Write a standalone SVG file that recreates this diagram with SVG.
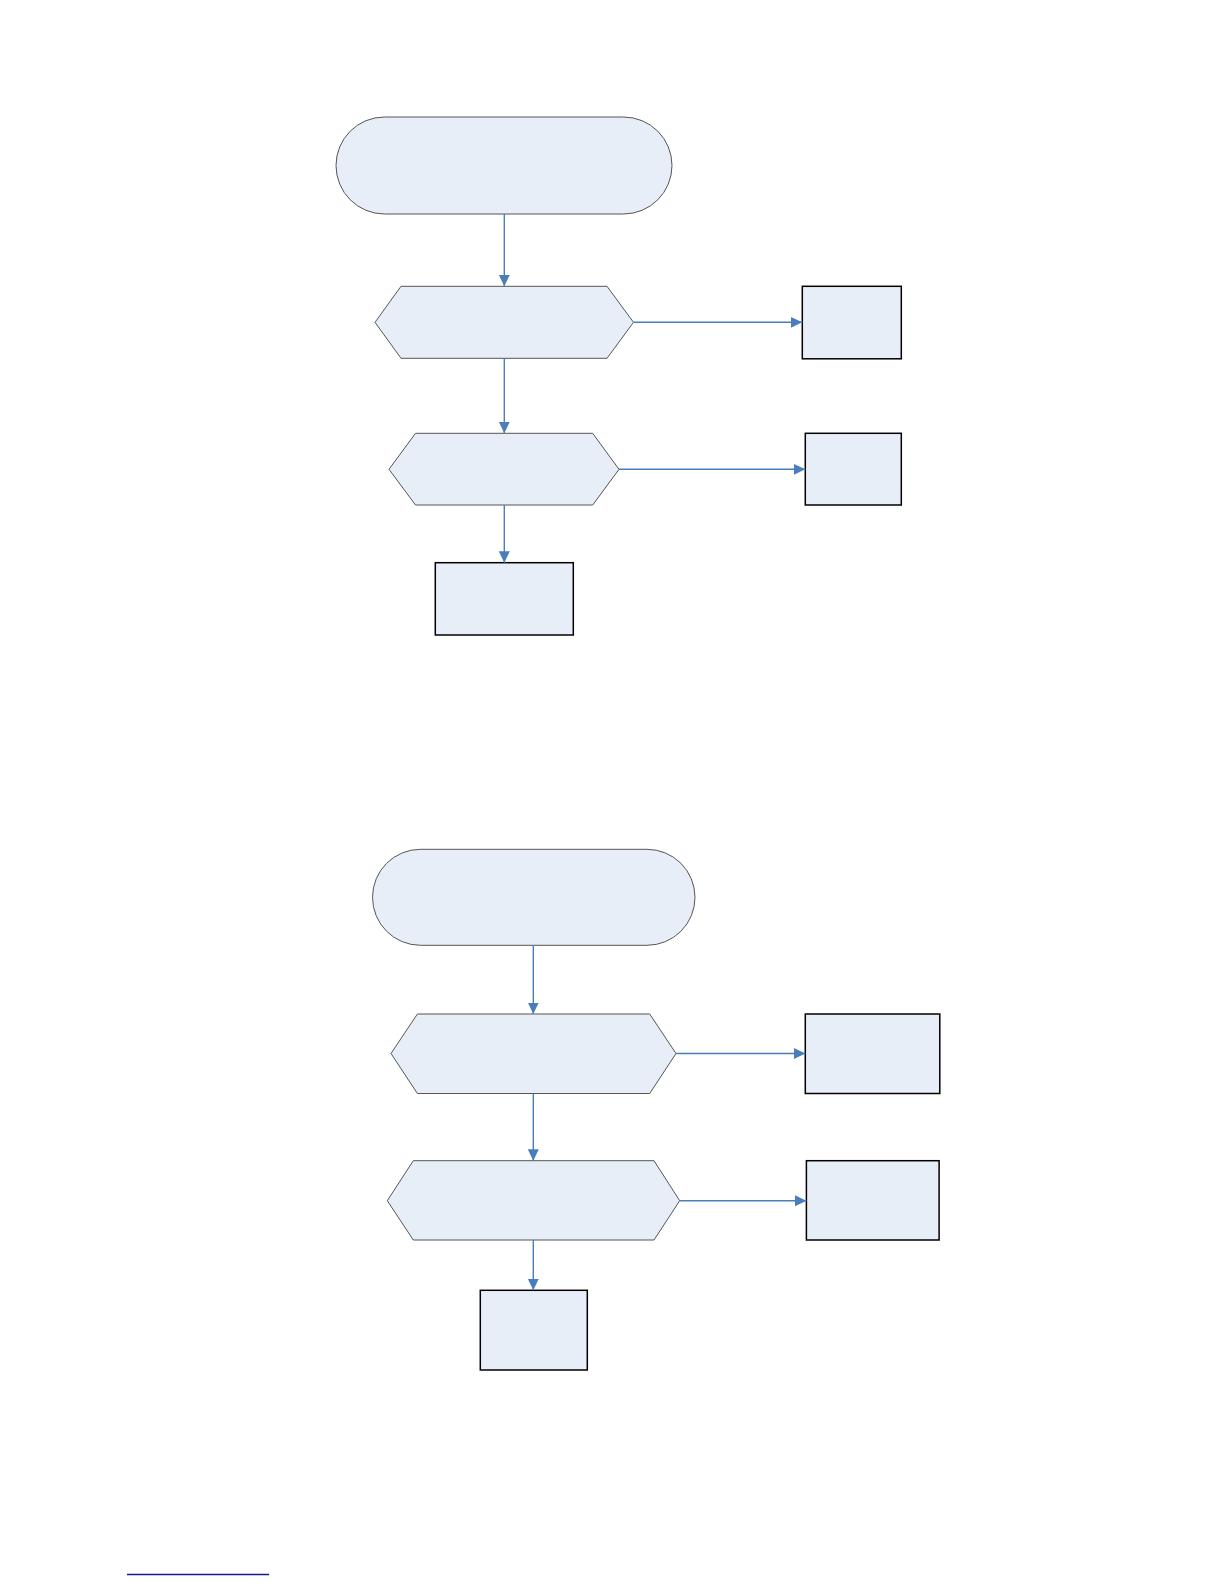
<svg xmlns="http://www.w3.org/2000/svg" width="1224" height="1584" viewBox="0 0 1224 1584">
<defs>
<style>
.term{fill:#e8eef8;stroke:#555555;stroke-width:1}
.hex{fill:#e8eef8;stroke:#555555;stroke-width:1}
.box{fill:#e8eef8;stroke:#000000;stroke-width:1.5}
.conn{fill:none;stroke:#4a7ebb;stroke-width:1.4}
</style>
<marker id="arr" markerUnits="userSpaceOnUse" markerWidth="13" markerHeight="13" viewBox="0 0 13 13" refX="11.5" refY="6.5" orient="auto">
<path d="M0,1 L11.5,6.5 L0,12 Z" fill="#4a7ebb"/>
</marker>
</defs>
<rect width="1224" height="1584" fill="#ffffff"/>
<g id="start1"><rect class="term" x="336" y="117" width="336" height="97" rx="48.5" ry="48.5"/></g>
<g id="decision1"><polygon class="hex" points="375,322.3 401,286.3 607,286.3 633.5,322.3 607,358.3 401,358.3"/></g>
<g id="box1a"><rect class="box" x="802.3" y="286.3" width="99" height="72.5"/></g>
<g id="decision2"><polygon class="hex" points="389,469.3 415.5,433.3 592.7,433.3 619,469.3 592.7,505 415.5,505"/></g>
<g id="box1b"><rect class="box" x="805.3" y="433.3" width="96" height="71.7"/></g>
<g id="box1c"><rect class="box" x="435.3" y="562.7" width="138" height="72.3"/></g>
<g id="start2"><rect class="term" x="372.5" y="849.3" width="322.5" height="96" rx="48" ry="48"/></g>
<g id="decision3"><polygon class="hex" points="391,1053.5 417.4,1014 649.7,1014 676,1053.5 649.7,1093.5 417.4,1093.5"/></g>
<g id="box2a"><rect class="box" x="805.3" y="1014" width="134.5" height="79.5"/></g>
<g id="decision4"><polygon class="hex" points="387.3,1200.7 413.3,1160.7 654,1160.7 679.7,1200.7 654,1240 413.3,1240"/></g>
<g id="box2b"><rect class="box" x="806.4" y="1160.7" width="132.7" height="79.3"/></g>
<g id="box2c"><rect class="box" x="480.3" y="1290.3" width="107" height="79.7"/></g>
<g id="connectors">
<line class="conn" x1="504.3" y1="214" x2="504.3" y2="286.3" marker-end="url(#arr)"/>
<line class="conn" x1="633.5" y1="322.3" x2="802.3" y2="322.3" marker-end="url(#arr)"/>
<line class="conn" x1="504.3" y1="358.3" x2="504.3" y2="433.3" marker-end="url(#arr)"/>
<line class="conn" x1="619" y1="469.3" x2="805.3" y2="469.3" marker-end="url(#arr)"/>
<line class="conn" x1="504.3" y1="505" x2="504.3" y2="562.7" marker-end="url(#arr)"/>
<line class="conn" x1="533.3" y1="945.3" x2="533.3" y2="1014" marker-end="url(#arr)"/>
<line class="conn" x1="676" y1="1053.5" x2="805.3" y2="1053.5" marker-end="url(#arr)"/>
<line class="conn" x1="533.3" y1="1093.5" x2="533.3" y2="1160.7" marker-end="url(#arr)"/>
<line class="conn" x1="679.7" y1="1200.7" x2="806.4" y2="1200.7" marker-end="url(#arr)"/>
<line class="conn" x1="533.3" y1="1240" x2="533.3" y2="1290.3" marker-end="url(#arr)"/>
</g>
<line x1="127" y1="1574.5" x2="269" y2="1574.5" stroke="#1a1a8c" stroke-width="1.5"/>
</svg>
